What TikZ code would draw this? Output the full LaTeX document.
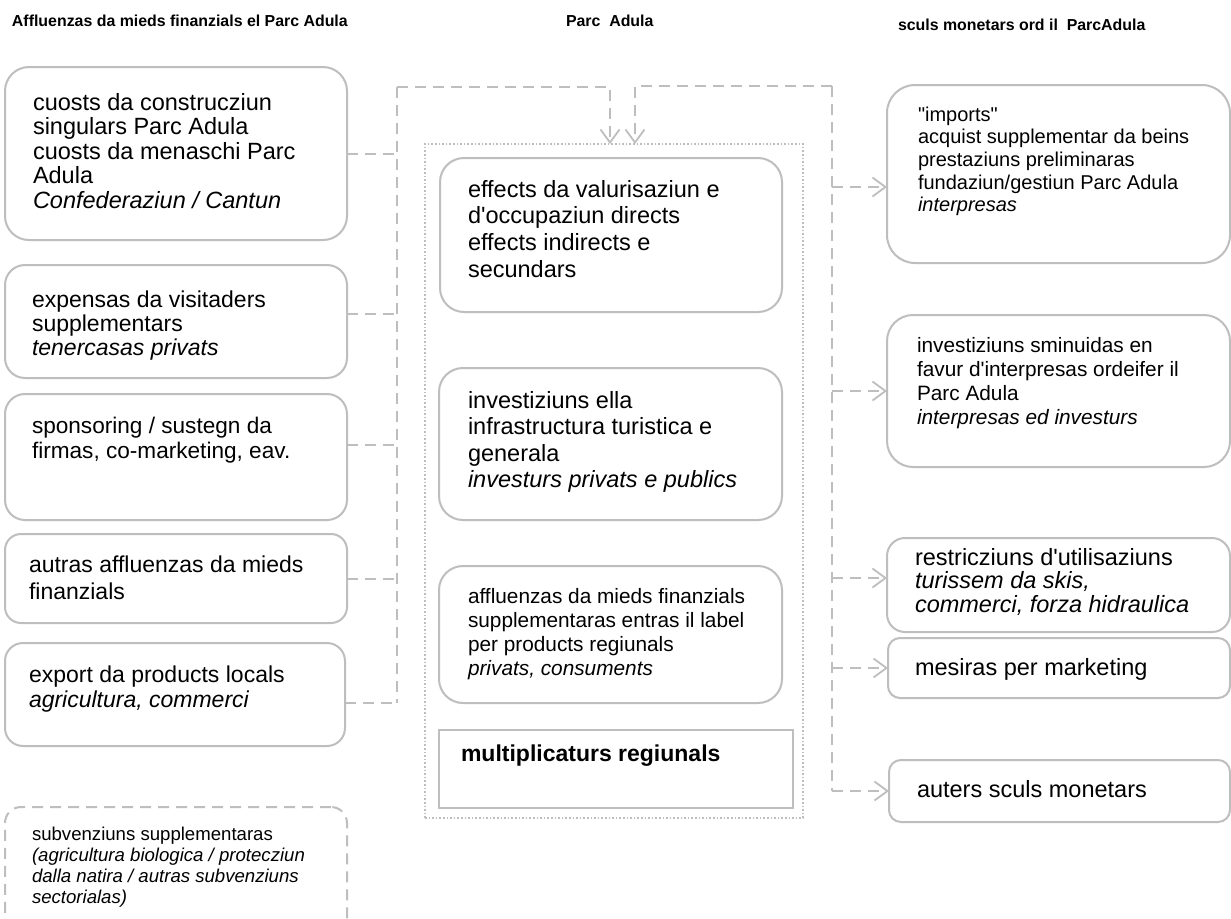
\documentclass[tikz,border=0pt]{standalone}
\usepackage{fontspec}
\setmainfont{Liberation Sans}
\usetikzlibrary{arrows.meta}
\definecolor{lg}{RGB}{190,190,190}
\newcommand\boxtext[3]{\parbox[t]{330pt}{\fontsize{#1}{#2}\selectfont\raggedright #3}}
\newcommand\ap{\textquotesingle}
\tikzset{
  box/.style={draw=lg, line width=2pt, rounded corners=#1, inner sep=0pt, outer sep=0pt},
  box/.default=22pt,
  dbox/.style={box=#1, dash pattern=on 11pt off 7pt},
  dbox/.default=16pt,
  txt/.style={anchor=base west, inner sep=0pt, outer sep=0pt},
  conn/.style={draw=lg, line width=2pt, dash pattern=on 11pt off 7pt},
  tip/.style={-{Straight Barb[length=13pt,width=19pt,line width=1.8pt]}},
  frame/.style={draw=lg, line width=1.6pt, dash pattern=on 1.6pt off 2pt, inner sep=0pt, outer sep=0pt},
}
\begin{document}
\begin{tikzpicture}[x=1pt,y=-1pt]
\fill[white] (0,0) rectangle (1231,918);
\clip (0,0) rectangle (1231,918);

% headers
\node[txt] (h1) at (12,26) {\fontsize{15.9}{18}\selectfont\bfseries Affluenzas da mieds finanzials el Parc Adula};
\node[txt] (h2) at (566,26) {\fontsize{15.9}{18}\selectfont\bfseries Parc\ \ Adula};
\node[txt] (h3) at (898,30) {\fontsize{15.9}{18}\selectfont\bfseries sculs monetars ord il\ \ ParcAdula};

% left boxes
\node[box=24pt, minimum width=342pt, minimum height=173pt] (L1) at (176,153.5) {};
\node[box=20pt, minimum width=342pt, minimum height=113pt] (L2) at (176,321.5) {};
\node[box=20pt, minimum width=342pt, minimum height=126pt] (L3) at (176,457) {};
\node[box=16pt, minimum width=342pt, minimum height=89pt] (L4) at (176,578.5) {};
\node[box=18pt, minimum width=340pt, minimum height=103pt] (L5) at (175,694.5) {};
\node[dbox=16pt, minimum width=342pt, minimum height=128pt] (L6) at (176,871) {};

\node[txt] (tL1) at (33,110) {\boxtext{23.5}{24.5}{cuosts da construcziun\\singulars Parc Adula\\cuosts da menaschi Parc\\Adula\\\textit{Confederaziun / Cantun}}};
\node[txt] (tL2) at (32,307) {\boxtext{23}{24}{expensas da visitaders\\supplementars\\\textit{tenercasas privats}}};
\node[txt] (tL3) at (32,433) {\boxtext{22.6}{25}{sponsoring / sustegn da\\firmas, co-marketing, eav.}};
\node[txt] (tL4) at (29,572) {\boxtext{23}{27}{autras affluenzas da mieds\\finanzials}};
\node[txt] (tL5) at (29,682) {\boxtext{23}{25}{export da products locals\\\textit{agricultura, commerci}}};
\node[txt] (tL6) at (32,840) {\boxtext{18.6}{21}{subvenziuns supplementaras\\\textit{(agricultura biologica / protecziun\\dalla natira / autras subvenziuns\\sectorialas)}}};

% centre
\node[frame, minimum width=378pt, minimum height=674pt] (P) at (614,481) {};
\node[box=24pt, minimum width=342pt, minimum height=154pt] (C1) at (611,235) {};
\node[box=24pt, minimum width=343pt, minimum height=152pt] (C2) at (610.5,444) {};
\node[box=24pt, minimum width=343pt, minimum height=137pt] (C3) at (610.5,634.5) {};
\node[draw=lg, line width=2pt, inner sep=0pt, outer sep=0pt, minimum width=354pt, minimum height=78pt] (CM) at (616,769) {};

\node[txt] (tC1) at (468,197) {\boxtext{23.5}{26.7}{effects da valurisaziun e\\d\ap occupaziun directs\\effects indirects e\\secundars}};
\node[txt] (tC2) at (468,408) {\boxtext{23.5}{26.5}{investiziuns ella\\infrastructura turistica e\\generala\\\textit{investurs privats e publics}}};
\node[txt] (tC3) at (468,603) {\boxtext{20.8}{24}{affluenzas da mieds finanzials\\supplementaras entras il label\\per products regiunals\\\textit{privats, consuments}}};
\node[txt] (tCM) at (461,761) {\fontsize{23}{26}\selectfont\bfseries multiplicaturs regiunals};

% right boxes
\node[box=28pt, minimum width=343pt, minimum height=178pt] (R1) at (1058.5,174) {};
\node[box=26pt, minimum width=343pt, minimum height=152pt] (R2) at (1058.5,391) {};
\node[box=18pt, minimum width=343pt, minimum height=94pt] (R3) at (1058.5,585) {};
\node[box=12pt, minimum width=342pt, minimum height=60pt] (R4) at (1059,668) {};
\node[box=12pt, minimum width=341pt, minimum height=62pt] (R5) at (1059.5,791) {};

\node[txt] (tR1) at (918,121) {\boxtext{20}{22.7}{\textquotedbl imports\textquotedbl\\acquist supplementar da beins\\prestaziuns preliminaras\\fundaziun/gestiun Parc Adula\\\textit{interpresas}}};
\node[txt] (tR2) at (917,352) {\boxtext{20.8}{24}{investiziuns sminuidas en\\favur d\ap interpresas ordeifer il\\Parc Adula\\\textit{interpresas ed investurs}}};
\node[txt] (tR3) at (915,565) {\boxtext{23.5}{23.8}{restricziuns d\ap utilisaziuns\\\textit{turissem da skis,}\\\textit{commerci, forza hidraulica}}};
\node[txt] (tR4) at (915,675) {\fontsize{23.5}{26}\selectfont mesiras per marketing};
\node[txt] (tR5) at (917,797) {\fontsize{23.5}{26}\selectfont auters sculs monetars};

% connectors left
\coordinate (vl) at (397,87);
\coordinate (vlb) at (397,703);
\draw[conn] (vl) -- (vlb);
\draw[conn] (L1.east) -- (L1.east -| vl);
\path ([yshift=7.5pt]L2.east) coordinate (l2);
\draw[conn] (l2) -- (l2 -| vl);
\path ([yshift=12pt]L3.east) coordinate (l3);
\draw[conn] (l3) -- (l3 -| vl);
\draw[conn] (L4.east) -- (L4.east -| vl);
\path ([yshift=-8.5pt]L5.east) coordinate (l5);
\draw[conn] (l5) -- (l5 -| vl);
\draw[conn,tip] (vl) -| ([xshift=-4pt]P.north);

% connectors right
\coordinate (vr) at (832,86);
\coordinate (vrb) at (832,791);
\draw[conn] (vr) -- (vrb);
\draw[conn,tip] (vr) -| ([xshift=21pt]P.north);
\path ([yshift=-13pt]R1.west) coordinate (r1);
\draw[conn,tip] (r1 -| vr) -- (r1);
\draw[conn,tip] (R2.west -| vr) -- (R2.west);
\path ([yshift=7pt]R3.west) coordinate (r3);
\draw[conn,tip] (r3 -| vr) -- (r3);
\draw[conn,tip] (R4.west -| vr) -- (R4.west);
\draw[conn,tip] (R5.west -| vr) -- (R5.west);
\end{tikzpicture}
\end{document}
